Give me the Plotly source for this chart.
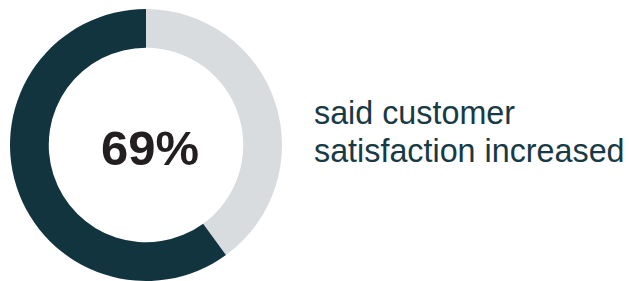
import plotly.graph_objects as go

labels = ["Other", "Increased"]
values = [40, 60]
colors = ["#d9dcdf", "#12343f"]
center_label = "69%"
side_text = ["said customer", "satisfaction increased"]

W, H = 629, 281
fig = go.Figure(go.Pie(
    labels=labels, values=values, hole=0.715, sort=False,
    direction="clockwise", rotation=0,
    marker=dict(colors=colors, line=dict(width=0)),
    textinfo="none", hoverinfo="label+percent",
    domain=dict(x=[10 / W, 282 / W], y=[0, 272 / H]),
    showlegend=False,
))
fig.add_annotation(x=149.5 / W, y=1 - 148 / H, xref="paper", yref="paper",
                   text="<b>%s</b>" % center_label, showarrow=False,
                   font=dict(family="Liberation Sans, Arial", size=49, color="#231f20"),
                   xanchor="center", yanchor="middle")
for line, yc in zip(side_text, [113, 150.5]):
    fig.add_annotation(x=312 / W, y=1 - yc / H, xref="paper", yref="paper",
                       text=line, showarrow=False, align="left",
                       font=dict(family="Liberation Sans, Arial", size=32.3, color="#173a45"),
                       xanchor="left", yanchor="middle")
fig.update_layout(width=W, height=H, margin=dict(l=0, r=0, t=0, b=0),
                  paper_bgcolor="white", plot_bgcolor="white")
fig.write_html("out.html", config={"displayModeBar": False},
               post_script="document.body.style.margin='0';document.body.style.overflow='hidden';")
